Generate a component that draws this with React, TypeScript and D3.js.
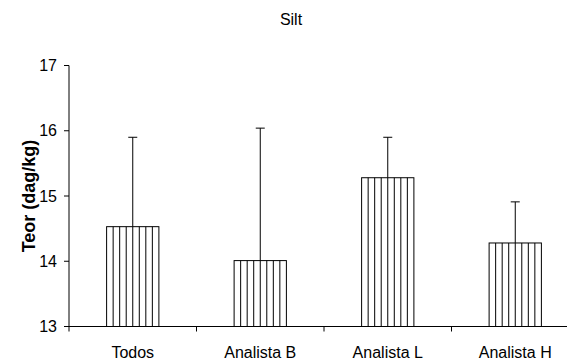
import React from "react";
import * as d3 from "d3";

const categories = ["Todos", "Analista B", "Analista L", "Analista H"];
const means = [14.53, 14.01, 15.28, 14.28];
const upper = [15.9, 16.04, 15.9, 14.91];
const yTicks = [13, 14, 15, 16, 17];
const title = "Silt";
const yLabel = "Teor (dag/kg)";

const W = 567;
const H = 362;
const left = 69;
const right = 579;
const top = 65.5;
const bottom = 326.5;

export default function App() {
  const x = d3
    .scaleBand<string>()
    .domain(categories)
    .range([left, right])
    .paddingInner(0.59)
    .paddingOuter(0.295);
  const step = x.step();
  const y = d3.scaleLinear().domain([13, 17]).range([bottom, top]);
  const bw = x.bandwidth();
  const font = "'Liberation Sans', Arial, sans-serif";
  const stripes = 8;

  return (
    <svg
      width={W}
      height={H}
      style={{ position: "absolute", left: 0, top: 0, background: "#fff" }}
      fontFamily={font}
    >
      <text x={291} y={25} textAnchor="middle" fontSize={16}>
        {title}
      </text>
      {/* bars */}
      {categories.map((c, i) => {
        const bx = x(c)!;
        const by = y(means[i]);
        const bh = y(13) - by;
        const cx = bx + bw / 2;
        return (
          <g key={c}>
            <rect x={bx} y={by} width={bw} height={bh} fill="#fff" stroke="#000" strokeWidth={1} />
            {d3.range(1, stripes).map((k) => (
              <line
                key={k}
                x1={bx + (k * bw) / stripes}
                x2={bx + (k * bw) / stripes}
                y1={by}
                y2={y(13)}
                stroke="#000"
                strokeWidth={1}
              />
            ))}
            <line x1={cx} x2={cx} y1={by} y2={y(upper[i])} stroke="#000" strokeWidth={1} />
            <line x1={cx - 4.5} x2={cx + 4.5} y1={y(upper[i])} y2={y(upper[i])} stroke="#000" strokeWidth={1} />
          </g>
        );
      })}
      {/* y axis */}
      <line x1={left} x2={left} y1={top} y2={bottom} stroke="#000" />
      {yTicks.map((t) => (
        <g key={t}>
          <line x1={left - 5} x2={left} y1={y(t)} y2={y(t)} stroke="#000" />
          <text x={57} y={y(t) + 5.5} textAnchor="end" fontSize={16}>
            {t}
          </text>
        </g>
      ))}
      {/* x axis */}
      <line x1={left} x2={right} y1={bottom} y2={bottom} stroke="#000" />
      {d3.range(categories.length + 1).map((k) => (
        <line key={k} x1={left + k * step} x2={left + k * step} y1={bottom} y2={bottom + 5} stroke="#000" />
      ))}
      {categories.map((c) => (
        <text key={c} x={x(c)! + bw / 2} y={358} textAnchor="middle" fontSize={16}>
          {c}
        </text>
      ))}
      <text
        transform={`translate(35,${(top + bottom) / 2}) rotate(-90)`}
        textAnchor="middle"
        fontSize={18}
        fontWeight="bold"
      >
        {yLabel}
      </text>
    </svg>
  );
}
